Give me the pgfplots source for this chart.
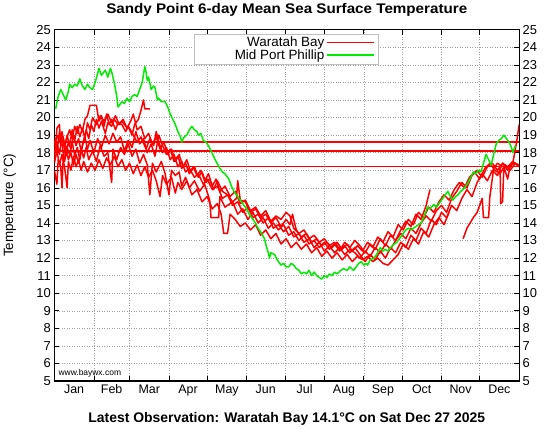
\documentclass[border=0pt]{standalone}
\usepackage{pgfplots}
\pgfplotsset{compat=1.18}
\usepackage{fontspec}
\setmainfont{Liberation Sans}
\definecolor{gpred}{RGB}{255,0,0}
\definecolor{gpgreen}{RGB}{0,235,0}
\begin{document}
\begin{tikzpicture}
\pgfplotsset{
  myaxis/.style={
    scale only axis, width=467pt, height=353pt,
    at={(0,0)}, anchor=south west,
    xmin=0, xmax=365, ymin=5, ymax=25,
    ytick={5,6,...,25},
    /pgf/number format/assume math mode=true,
    yticklabel style={font=\fontsize{13}{14}\selectfont},
    xticklabel style={font=\fontsize{12.5}{14}\selectfont},
    major tick length=5pt,
  }
}
\begin{axis}[myaxis,
  axis line style={black, line width=1.2pt},
  xtick={31,59,90,120,151,181,212,243,273,304,334},
  xticklabels={,,,,,,,,,,},
  extra x ticks={15.5,45,74.5,105,135.5,166,196.5,227.5,258,288.5,319,349.5},
  extra x tick labels={Jan,Feb,Mar,Apr,May,Jun,Jul,Aug,Sep,Oct,Nov,Dec},
  extra x tick style={grid=none, major tick length=0pt},
  xtick pos=both, ytick pos=both, yticklabel pos=left,
  tick style={black, line width=0.6pt},
  xmajorgrids, ymajorgrids,
  major grid style={gray!75, dash pattern=on 1pt off 1.5pt, line width=0.5pt},
  title={\scalebox{1.09}[1]{\bfseries Sandy Point 6-day Mean Sea Surface Temperature}},
  every axis title/.style={at={(axis description cs:0.5,1)}, anchor=center, yshift=20pt, font=\fontsize{14}{15}\selectfont},
  xlabel={\bfseries Latest Observation: Waratah Bay 14.1°C on Sat Dec 27 2025},
  every axis x label/.style={at={(axis description cs:0.5,0)}, anchor=center, yshift=-38pt, font=\fontsize{14}{15}\selectfont},
  ylabel={Temperature (°C)},
  every axis y label/.style={at={(axis description cs:0,0.5)}, rotate=90, anchor=center, yshift=45pt, font=\fontsize{13.5}{15}\selectfont},
  legend plot pos=right,
  legend cell align=right,
  legend image code/.code={\path (0pt,0pt) -- (47pt,0pt); \draw[#1] (7pt,0pt) -- (44pt,0pt);},
  legend style={at={(0.30,0.989)}, anchor=north west, draw=gray!50,
    font=\fontsize{13.5}{14}\selectfont, inner xsep=3pt, inner ysep=1pt, row sep=-2.5pt},
  every axis plot/.append style={line width=1.5pt, line join=round},
]
\addlegendimage{draw=gpred, line width=1.6pt}
\addlegendentry{\makebox[126pt][r]{Waratah Bay}}
\addlegendimage{draw=gpgreen, line width=1.6pt}
\addlegendentry{\makebox[126pt][r]{Mid Port Phillip}}
% ---- Waratah Bay (several years) ----
\addplot[gpred, forget plot] coordinates {
(0,18.3) (2,19.0) (4,18.6) (6,19.2) (8,18.4) (10,18.9) (12,19.3) (14,18.8) (16,19.5) (18,19.1) (20,19.6) (22,19.2) (24,19.9) (26,20.1) (28,20.7) (33,20.7) (35,19.8) (37,20.1) (39,19.5) (41,20.2) (43,19.6) (45,19.9) (48,19.3) (50,19.7) (53,19.6) (56,19.2) (58,19.5) (61,19.0) (63,19.6) (66,19.9) (68,20.4) (70,21.0) (71,20.5) (75,20.5)
};
\addplot[gpred, forget plot] coordinates {
(0,17.5) (2,19.4) (4,19.6) (5,18.4) (7,18.9) (9,17.8) (11,18.6) (13,18.2) (15,19.0) (17,18.4) (19,18.8) (21,18.1) (23,18.7) (25,19.3) (27,18.8) (29,19.6) (31,19.2) (33,19.9) (35,19.4) (37,19.8) (40,19.1) (42,19.7) (45,19.5) (47,19.9) (50,19.6) (53,19.8) (56,19.5) (59,19.4) (62,19.0) (65,18.6) (68,18.9) (72,18.2) (75,18.8) (78,18.4) (80,19.2) (82,18.6) (85,18.0) (88,18.3) (91,17.6) (94,17.9) (97,17.2) (100,17.5) (103,16.9) (106,17.1) (110,16.6) (113,16.8) (117,16.2) (120,16.5) (124,15.9) (128,16.1) (132,15.4) (136,15.6) (140,15.0) (144,15.2) (148,14.6) (152,14.9) (156,14.3) (160,14.5) (164,14.0) (168,14.3) (172,13.7) (176,13.9) (180,13.5) (184,13.8) (188,13.2) (192,13.4) (196,12.9) (200,13.1) (204,12.6) (208,12.9) (212,12.4) (216,12.7) (220,12.3) (224,12.6) (228,12.2) (232,12.5) (236,12.3) (240,12.0) (244,12.4) (248,12.1) (252,12.6) (256,12.3) (260,12.8) (264,12.5) (268,13.0) (272,13.4) (276,13.1) (280,13.7) (284,13.4) (288,14.0) (292,14.4) (296,14.1) (300,14.7) (304,15.0) (308,14.6) (312,15.4) (316,15.8) (320,16.3) (324,16.0) (328,16.7) (332,17.0) (336,16.6) (340,17.2) (344,17.4) (348,17.0) (352,17.4) (356,17.2) (360,17.5) (365,17.2)
};
\addplot[gpred, forget plot] coordinates {
(0,17.0) (2,16.2) (3,17.6) (5,17.2) (6,16.0) (7,17.8) (9,18.4) (11,17.6) (13,18.0) (15,17.3) (17,17.9) (19,17.4) (21,18.2) (23,17.7) (25,18.3) (27,17.6) (30,18.1) (33,17.5) (36,18.4) (39,17.8) (42,18.0) (45,16.3) (46,18.2) (49,17.6) (52,18.3) (55,17.9) (58,18.5) (61,17.8) (64,18.2) (67,17.4) (70,17.9) (73,17.3) (75,15.6) (77,17.4) (80,16.9) (84,17.5) (87,16.8) (90,15.6) (92,17.0) (95,16.7) (98,16.9) (100,16.1) (103,16.6) (106,16.0) (110,16.4) (114,15.8) (118,16.2) (122,15.3) (123,14.3) (129,14.3) (130,15.5) (134,14.9) (140,15.2) (144,14.5) (148,14.8) (152,14.2) (156,14.6) (160,14.0) (164,14.3) (168,13.7) (172,14.0) (176,13.6) (180,13.9) (184,13.3) (188,13.5) (192,13.0) (196,13.3) (200,12.8) (204,13.0) (208,12.6) (212,12.9) (216,12.5) (220,12.8) (224,12.4) (228,12.9) (232,12.6) (236,13.0) (240,12.7) (244,12.3) (248,12.8) (252,12.5) (256,13.1) (260,12.7) (264,13.3) (268,13.0) (272,13.6) (276,14.1) (280,13.8) (284,14.5) (288,14.2) (292,15.0) (295,15.9)
};
\addplot[gpred, forget plot] coordinates {
(0,18.8) (2,18.0) (4,19.2) (6,18.5) (8,17.5) (10,18.3) (12,17.9) (14,18.6) (16,17.8) (18,18.3) (20,17.6) (22,18.4) (24,18.9) (26,18.2) (28,18.7) (31,18.0) (34,18.8) (37,18.3) (40,19.0) (43,18.5) (46,19.1) (49,18.6) (52,18.9) (55,18.1) (58,18.7) (61,18.3) (64,19.2) (67,18.5) (70,18.8) (73,18.0) (76,18.5) (79,17.8) (82,19.0) (85,18.4) (88,17.9) (91,18.2) (94,17.5) (97,17.8) (100,17.1) (103,17.4) (106,16.8) (109,17.2) (112,16.7) (115,17.0) (118,16.4) (121,16.8) (124,16.1) (127,16.5) (130,15.8) (134,16.1) (138,15.5) (142,15.8) (146,15.1) (150,15.3) (154,14.7) (158,14.9) (162,14.4) (166,14.7) (170,14.1) (174,14.4) (178,14.2) (182,14.6) (185,14.4) (188,13.7) (192,13.4) (196,13.6) (200,13.1) (204,13.3) (208,12.9) (212,13.1) (216,12.7) (220,12.9) (224,12.5) (228,12.7) (232,12.3) (236,12.6) (240,12.2) (244,11.8) (248,12.2) (252,11.9) (256,12.4) (260,12.0) (264,12.6) (268,12.3) (272,12.9) (276,12.6) (280,13.3) (284,13.0) (288,13.7) (292,13.4) (296,14.2) (300,13.9) (304,14.6) (308,14.3) (312,15.0) (316,14.7) (320,15.4) (324,15.9) (328,15.5) (332,16.3) (336,16.8) (340,16.4) (344,17.0) (348,16.7) (352,17.4) (356,17.0) (360,17.4) (363,18.6) (365,19.6)
};
\addplot[gpred, forget plot] coordinates {
(0,17.4) (2,18.1) (4,17.3) (6,17.9) (8,17.2) (10,16.0) (11,17.5) (13,17.0) (15,17.8) (17,17.2) (19,17.6) (21,17.0) (23,17.5) (26,16.9) (29,17.4) (32,17.0) (35,17.6) (38,17.1) (41,17.7) (44,17.3) (47,17.8) (50,17.2) (53,17.6) (56,17.0) (59,17.4) (62,16.8) (65,17.3) (68,16.7) (71,17.2) (74,16.6) (77,17.0) (80,16.4) (83,15.5) (85,16.7) (88,16.2) (92,16.6) (95,15.7) (97,16.3) (100,15.9) (104,16.4) (108,15.6) (112,15.9) (116,15.2) (120,15.5) (124,14.8) (128,15.1) (131,14.5) (133,13.4) (136,13.4) (138,14.5) (142,14.2) (146,13.8) (150,14.0) (154,13.6) (158,13.9) (162,13.3) (166,13.6) (170,13.1) (174,13.4) (178,12.8) (182,13.1) (186,12.6) (190,12.9) (194,12.5) (198,12.8) (202,12.3) (206,12.6) (210,12.1) (214,12.4) (218,12.0) (222,12.3) (226,11.9) (230,12.2) (234,11.8) (238,12.1) (242,11.9) (246,12.1) (250,11.8) (254,12.0) (258,11.7) (262,11.6) (266,11.9) (270,12.2) (274,12.8) (278,12.5) (282,13.1) (286,12.8) (290,13.5) (294,13.2) (298,13.9) (302,14.3) (306,13.9) (310,14.6)
};
\addplot[gpred, forget plot] coordinates {
(321,13.1) (324,13.7) (329,14.3) (332,14.6) (336,15.4) (337,14.3) (341,14.3) (342,15.5) (345,17.1) (348,17.4) (350,17.3) (350.5,15.1) (352,15.2) (353,17.2) (356,16.5) (358,17.3) (362,17.4) (365,17.2)
};
\addplot[gpred, forget plot] coordinates {
(0,18.0) (2,18.6) (4,17.9) (6,18.9) (8,18.2) (10,19.0) (12,18.4) (14,19.3) (16,18.7) (18,19.5) (20,18.9) (22,19.4) (24,18.8) (26,19.7) (28,19.3) (30,20.0) (33,19.6) (36,20.1) (39,19.8) (42,20.2) (45,19.7) (48,20.1) (51,19.6) (54,19.9) (57,19.4) (60,19.8) (62,20.2) (65,19.3) (68,19.5) (71,18.8) (74,19.1) (77,18.5) (80,18.9) (83,18.2) (86,18.6) (89,17.9) (92,18.2) (95,17.5) (98,17.9) (101,17.2) (104,17.6) (107,16.9) (110,17.2) (113,16.6) (116,16.9) (119,16.3) (122,16.5) (125,15.9) (128,16.4) (132,15.8) (136,15.6) (140,15.2) (143,15.4) (144,16.4) (146,15.3) (150,15.2) (154,14.6) (158,14.8) (162,14.3) (166,14.5) (170,14.0) (174,14.3) (178,13.8) (182,14.2) (185,13.9) (187,14.5) (190,13.6) (194,13.2) (198,13.4) (202,12.9) (206,13.1) (210,12.7) (214,12.9) (218,12.6) (222,12.9) (226,12.5) (230,12.8) (234,12.4) (238,12.7) (242,12.4) (246,12.9) (250,12.6) (254,13.2) (258,12.9) (262,13.5) (266,13.2) (270,13.9) (274,13.6) (278,14.2) (282,13.9) (286,14.6) (290,14.3) (294,14.9) (298,14.6) (302,15.2) (306,15.6) (310,15.3) (314,15.9) (318,16.3) (322,16.0) (326,16.6) (330,16.9) (334,16.5) (338,17.1) (342,17.4) (346,17.0) (350,16.8) (354,17.3) (358,17.0) (362,17.4) (365,17.3)
};
\addplot[gpred, forget plot] coordinates {(0,18.6) (365,18.6)};
\addplot[gpred, forget plot] coordinates {(0,18.1) (365,18.1)};
\addplot[gpred, forget plot] coordinates {(0,17.2) (365,17.2)};
% ---- Mid Port Phillip ----
\addplot[gpgreen, forget plot] coordinates {
(1,20.5) (3,21.2) (5,21.6) (7,21.3) (9,21.0) (11,21.5) (12,21.9) (14,21.7) (16,21.9) (18,21.8) (20,22.2) (22,21.8) (24,21.6) (26,21.9) (28,21.7) (30,21.6) (32,22.0) (34,22.5) (35,22.8) (37,22.4) (38,22.5) (40,22.7) (42,22.3) (44,22.8) (45,22.6) (47,22.0) (49,21.2) (50,20.6) (52,20.8) (53,20.9) (55,20.8) (57,21.1) (59,20.9) (61,21.2) (63,21.3) (65,21.2) (67,21.6) (69,22.0) (71,22.9) (72,22.6) (73,22.1) (74,22.3) (76,21.6) (78,21.8) (79,21.7) (81,21.0) (82,21.1) (84,20.9) (87,20.9) (89,20.6) (91,20.2) (93,19.9) (95,19.6) (97,19.2) (99,18.9) (100,18.6) (102,18.9) (104,19.0) (106,19.3) (108,19.5) (110,19.3) (112,19.2) (113,19.0) (115,19.1) (117,18.7) (119,18.6) (121,18.4) (123,18.1) (125,17.8) (127,17.5) (130,17.1) (132,16.9) (134,16.8) (137,16.5) (139,16.1) (141,15.8) (143,15.6) (146,15.3) (149,15.0) (151,14.8) (153,14.5) (155,14.3) (157,14.1) (160,13.7) (162,13.5) (165,13.1) (166,12.8) (168,12.3) (169,12.0) (170,12.3) (173,12.2) (175,11.9) (178,11.6) (180,11.7) (182,11.5) (184,11.5) (186,11.7) (188,11.6) (190,11.4) (192,11.3) (194,11.1) (196,11.2) (198,11.1) (200,11.3) (202,11.0) (204,11.2) (206,11.0) (208,10.9) (210,10.8) (212,11.0) (214,10.9) (216,11.1) (218,11.0) (220,11.2) (222,11.1) (225,11.3) (227,11.4) (230,11.3) (232,11.5) (235,11.3) (237,11.5) (239,11.7) (241,11.8) (243,11.6) (245,11.7) (246,11.6) (248,11.9) (251,12.0) (253,12.2) (256,12.6) (258,12.4) (260,12.5) (262,12.4) (264,12.6) (267,12.8) (269,12.9) (272,13.2) (274,13.4) (276,13.6) (278,13.7) (280,13.6) (282,13.7) (284,13.8) (286,13.9) (288,14.0) (290,14.3) (292,14.7) (293,14.9) (295,14.8) (298,15.05) (300,14.9) (303,15.2) (305,15.4) (307,15.6) (309,15.8) (311,15.5) (313,15.3) (315,15.5) (317,15.6) (319,15.8) (321,15.9) (323,16.1) (325,16.3) (327,16.6) (329,16.9) (331,16.8) (333,17.0) (335,16.9) (337,17.4) (339,17.9) (341,17.6) (343,17.3) (345,17.9) (347,18.5) (349,18.7) (351,18.8) (353,19.0) (355,18.8) (357,18.6) (359,18.3) (360,18.0) (362,18.4)
};
\node[anchor=south west, font=\fontsize{8.5}{9}\selectfont, inner sep=0pt] at (rel axis cs:0,0) [xshift=4pt, yshift=4pt] {www.baywx.com};
\end{axis}
\begin{axis}[myaxis,
  hide x axis,
  axis line style={draw=none},
  yticklabel pos=right,
  ytick style={draw=none},
]
\addplot[draw=none] coordinates {(0,5)};
\end{axis}
\path[use as bounding box] (-52pt,-43pt) rectangle (496pt,381pt);
\end{tikzpicture}
\end{document}
